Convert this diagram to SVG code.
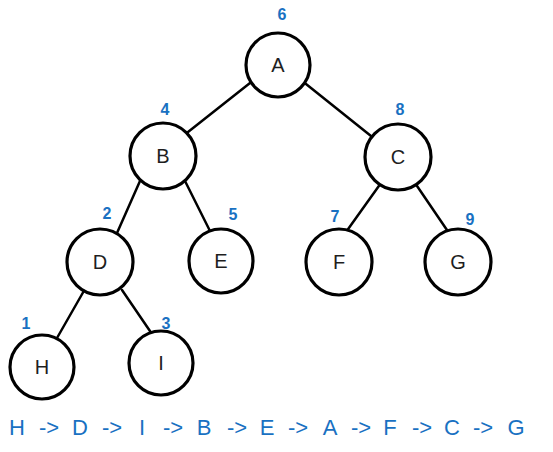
<svg xmlns="http://www.w3.org/2000/svg" width="553" height="452" viewBox="0 0 553 452">
<style>
.node circle{fill:#fff;stroke:#000;stroke-width:3.2}
.node text{font-family:"Liberation Sans",Arial,sans-serif;font-size:20px;fill:#1e1e1e;text-anchor:middle}
.num{font-family:"Liberation Sans",Arial,sans-serif;font-size:16px;font-weight:bold;fill:#1971c2;text-anchor:middle}
.edges line{stroke:#000;stroke-width:2.5;stroke-linecap:round}
.seq{font-family:"Liberation Sans",Arial,sans-serif;font-size:22px;fill:#1971c2;text-anchor:middle}
</style>
<rect width="553" height="452" fill="#fff"/>
<g class="edges" id="connectors">
<line x1="250" y1="83" x2="188" y2="132"/>
<line x1="306" y1="84" x2="371" y2="136"/>
<line x1="140" y1="181" x2="117" y2="233"/>
<line x1="185" y1="181" x2="210" y2="231"/>
<line x1="381" y1="183" x2="346" y2="232"/>
<line x1="415" y1="183" x2="449" y2="233"/>
<line x1="85" y1="289" x2="57" y2="338"/>
<line x1="122" y1="290" x2="152" y2="334"/>
</g>
<g id="nodeA" class="node"><circle cx="278" cy="65" r="32"/><text x="278" y="72">A</text></g>
<g id="nodeB" class="node"><circle cx="163" cy="156" r="33"/><text x="163" y="163">B</text></g>
<g id="nodeC" class="node"><circle cx="398" cy="157" r="33"/><text x="398" y="164">C</text></g>
<g id="nodeD" class="node"><circle cx="100" cy="262" r="33"/><text x="100" y="269">D</text></g>
<g id="nodeE" class="node"><circle cx="221" cy="261" r="32"/><text x="221" y="268">E</text></g>
<g id="nodeF" class="node"><circle cx="339" cy="262" r="33"/><text x="339" y="269">F</text></g>
<g id="nodeG" class="node"><circle cx="458" cy="262" r="33"/><text x="458" y="269">G</text></g>
<g id="nodeH" class="node"><circle cx="42" cy="367" r="32"/><text x="42" y="374">H</text></g>
<g id="nodeI" class="node"><circle cx="161" cy="363" r="32"/><text x="161" y="370">I</text></g>
<g id="labels">
<text class="num" x="282" y="20">6</text>
<text class="num" x="165" y="115">4</text>
<text class="num" x="400" y="115">8</text>
<text class="num" x="107" y="219">2</text>
<text class="num" x="233" y="220">5</text>
<text class="num" x="335" y="222">7</text>
<text class="num" x="470" y="225">9</text>
<text class="num" x="26" y="329">1</text>
<text class="num" x="166" y="329">3</text>
</g>
<text class="seq" y="435"><tspan x="17">H</tspan><tspan x="49">-&gt;</tspan><tspan x="80">D</tspan><tspan x="112">-&gt;</tspan><tspan x="142">I</tspan><tspan x="173">-&gt;</tspan><tspan x="204">B</tspan><tspan x="237">-&gt;</tspan><tspan x="267">E</tspan><tspan x="298">-&gt;</tspan><tspan x="330">A</tspan><tspan x="361">-&gt;</tspan><tspan x="390">F</tspan><tspan x="422">-&gt;</tspan><tspan x="452">C</tspan><tspan x="483">-&gt;</tspan><tspan x="516">G</tspan></text>
</svg>
